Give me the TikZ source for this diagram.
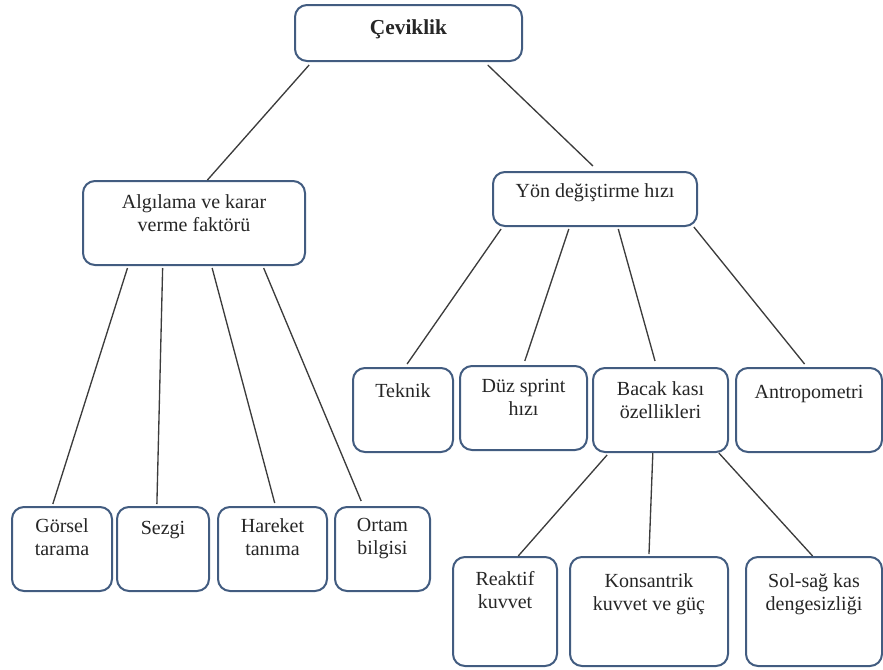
\documentclass[tikz,border=0pt]{standalone}
\usepackage{fontspec}
\setmainfont{Liberation Serif}
\newfontfamily\diagfont{Liberation Serif}
\usetikzlibrary{calc,fit}
\definecolor{boxblue}{RGB}{66,92,128}
\definecolor{linegray}{RGB}{60,60,60}
\newcommand\conn[6]{\draw[conn] ($(#1.south west)!#2!(#1.south east)+(0,#3)$) -- ($(#4.north west)!#5!(#4.north east)+(0,#6)$);}
\begin{document}
\begin{tikzpicture}[x=0.75pt,y=-0.75pt,
  box/.style={draw=boxblue, line width=1.5pt, rounded corners=9pt, fill=white, inner sep=0pt},
  txt/.style={anchor=north, inner sep=0pt, align=center, font=\diagfont\fontsize{15}{17.5}\selectfont, text=black!85, execute at begin node=\strut},
  conn/.style={draw=linegray, line width=1pt}]
\useasboundingbox (0,0) rectangle (883,669);
% boxes
\node[box, fit={(295,5) (522,61)}] (cev) {};
\node[box, fit={(83,181) (305,265)}] (alg) {};
\node[box, fit={(493,172) (697,226)}] (yon) {};
\node[box, fit={(353,368) (453,452)}] (tek) {};
\node[box, fit={(460,366) (587,450)}] (duz) {};
\node[box, fit={(593,368) (728,452)}] (bac) {};
\node[box, fit={(736,368) (882,452)}] (ant) {};
\node[box, fit={(12,507) (112,591)}] (gor) {};
\node[box, fit={(117,507) (209,591)}] (sez) {};
\node[box, fit={(218,507) (327,591)}] (har) {};
\node[box, fit={(335,507) (430,591)}] (ort) {};
\node[box, fit={(453,557) (557,666)}] (rea) {};
\node[box, fit={(570,557) (728,666)}] (kon) {};
\node[box, fit={(746,557) (882,666)}] (sol) {};
% texts
\node[txt] (cevt) at ($(cev.north)+(0,14)$) {\bfseries\fontsize{16}{18}\selectfont Çeviklik};
\node[txt] (algt) at ($(alg.north)+(0,14)$) {Algılama ve karar\\verme faktörü};
\node[txt] (yont) at ($(yon.north)+(0,10)$) {Yön değiştirme hızı};
\node[txt] (tekt) at ($(tek.north)+(0,14)$) {Teknik};
\node[txt] (duzt) at ($(duz.north)+(0,14)$) {Düz sprint\\hızı};
\node[txt] (bact) at ($(bac.north)+(0,14)$) {Bacak kası\\özellikleri};
\node[txt] (antt) at ($(ant.north)+(0,15)$) {Antropometri};
\node[txt] (gort) at ($(gor.north)+(0,12)$) {Görsel\\tarama};
\node[txt] (sezt) at ($(sez.north)+(0,12)$) {Sezgi};
\node[txt] (hart) at ($(har.north)+(0,12)$) {Hareket\\tanıma};
\node[txt] (ortt) at ($(ort.north)+(0,12)$) {Ortam\\bilgisi};
\node[txt] (reat) at ($(rea.north)+(0,15)$) {Reaktif\\kuvvet};
\node[txt] (kont) at ($(kon.north)+(0,17)$) {Konsantrik\\kuvvet ve güç};
\node[txt] (solt) at ($(sol.north)+(0,17)$) {Sol-sağ kas\\dengesizliği};
% connectors
\conn{cev}{0.066}{3}{alg}{0.56}{0}
\conn{cev}{0.846}{3}{yon}{0.49}{-5}
\conn{alg}{0.203}{2}{gor}{0.41}{-2}
\conn{alg}{0.36}{2}{sez}{0.435}{-2}
\conn{alg}{0.581}{2}{har}{0.52}{-3}
\conn{alg}{0.811}{2}{ort}{0.28}{-5}
\conn{yon}{0.044}{2}{tek}{0.54}{-3}
\conn{yon}{0.373}{2}{duz}{0.51}{-4}
\conn{yon}{0.613}{2}{bac}{0.46}{-6}
\conn{yon}{0.98}{0}{ant}{0.47}{-3}
\conn{bac}{0.11}{2}{rea}{0.625}{0}
\conn{bac}{0.444}{0}{kon}{0.5}{-2}
\conn{bac}{0.926}{0}{sol}{0.49}{0}
\end{tikzpicture}
\end{document}
